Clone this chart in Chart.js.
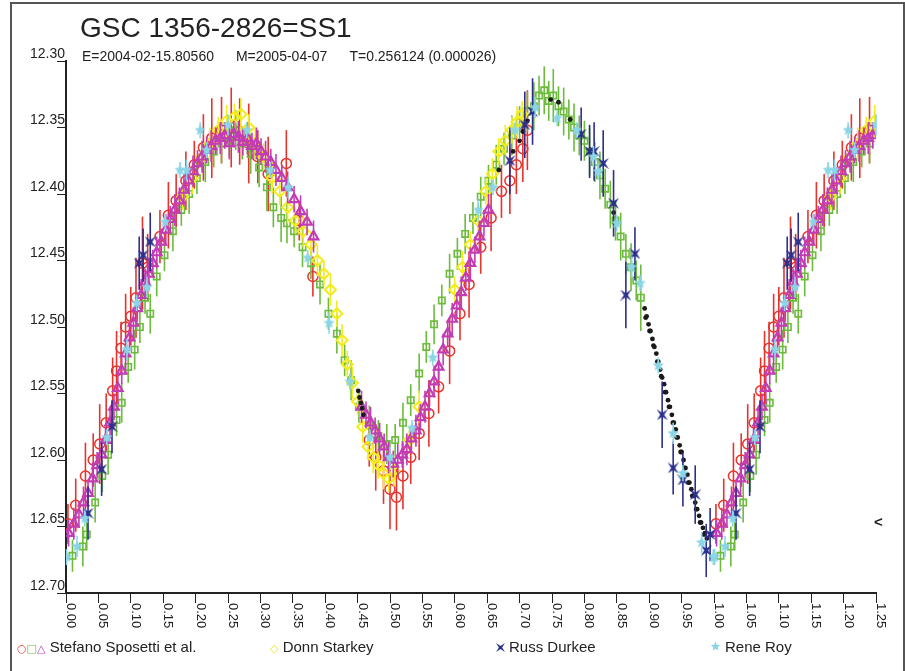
<!DOCTYPE html>
<html>
<head>
<meta charset="utf-8">
<title>GSC 1356-2826=SS1</title>
<script src="https://cdn.jsdelivr.net/npm/chart.js@4.4.1/dist/chart.umd.min.js"></script>
<style>
    body { margin: 0; background: #fff; }
    #wrap { position: relative; width: 905px; height: 671px; overflow: hidden; background: #fff; font-family: "Liberation Sans", Arial, sans-serif; color: #222; }
    #chart { position: absolute; left: 0; top: 0; }
    .frame { position: absolute; left: 10px; top: 2px; width: 891px; height: 700px; border: 2px solid #555; border-bottom: none; }
    .title { position: absolute; left: 80px; top: 14px; font-size: 28px; line-height: 28px; white-space: nowrap; }
    .subtitle { position: absolute; left: 82px; top: 49px; font-size: 14px; line-height: 14px; white-space: nowrap; }
    .subtitle span { margin-right: 22px; }
    .legend { position: absolute; top: 639px; font-size: 15px; line-height: 16px; white-space: nowrap; }
    .legend .mk { font-family: "DejaVu Sans", sans-serif; font-size: 11px; }
    .legend canvas { vertical-align: 0px; margin-right: 4px; }
    .mark { position: absolute; left: 874px; top: 513px; font-size: 15px; font-weight: bold; }
</style>
</head>
<body>
<div id="wrap">
    <canvas id="chart" width="905" height="671"></canvas>
    <div class="frame"></div>
    <div class="title">GSC 1356-2826=SS1</div>
    <div class="subtitle"><span>E=2004-02-15.80560</span><span>M=2005-04-07</span>T=0.256124 (0.000026)</div>
    <div class="legend" style="left:17px"><span class="mk" style="color:#e8322c">○</span><span class="mk" style="color:#6cbb3c">□</span><span class="mk" style="color:#c23cb4">△</span> Stefano Sposetti et al.</div>
    <div class="legend" style="left:270px"><span class="mk" style="color:#ece61a">◇</span> Donn Starkey</div>
    <div class="legend" style="left:496px"><canvas id="lgNavy" width="9" height="9"></canvas>Russ Durkee</div>
    <div class="legend" style="left:710px"><canvas id="lgCyan" width="11" height="11"></canvas>Rene Roy</div>
    <div class="mark">&lt;</div>
</div>

<script>
// phase, magnitude and error per observer
var redPhase = [0.003, 0.015, 0.030, 0.042, 0.052, 0.062, 0.072, 0.078, 0.085, 0.092, 0.100, 0.108, 0.118, 0.126, 0.145, 0.158, 0.170, 0.185, 0.198, 0.212, 0.225, 0.240, 0.255, 0.268, 0.282, 0.296, 0.312, 0.340, 0.360, 0.381, 0.468, 0.478, 0.490, 0.500, 0.510, 0.520, 0.532, 0.545, 0.560, 0.575, 0.592, 0.608, 0.622, 0.640, 0.656, 0.672, 0.685, 0.695, 0.705, 0.712];
var redMag = [12.648, 12.634, 12.612, 12.600, 12.588, 12.572, 12.548, 12.533, 12.516, 12.500, 12.492, 12.478, 12.452, 12.455, 12.432, 12.416, 12.405, 12.390, 12.378, 12.365, 12.358, 12.352, 12.350, 12.353, 12.362, 12.372, 12.385, 12.377, 12.420, 12.462, 12.585, 12.598, 12.608, 12.622, 12.628, 12.612, 12.598, 12.580, 12.565, 12.545, 12.518, 12.490, 12.468, 12.440, 12.418, 12.398, 12.390, 12.378, 12.366, 12.352];
var redErr = [0.015, 0.020, 0.025, 0.020, 0.030, 0.022, 0.025, 0.030, 0.020, 0.025, 0.022, 0.030, 0.035, 0.025, 0.020, 0.025, 0.020, 0.022, 0.018, 0.025, 0.030, 0.025, 0.030, 0.025, 0.030, 0.020, 0.028, 0.025, 0.015, 0.015, 0.020, 0.025, 0.025, 0.030, 0.025, 0.025, 0.020, 0.020, 0.025, 0.020, 0.025, 0.020, 0.025, 0.020, 0.025, 0.020, 0.025, 0.022, 0.025, 0.030];

var greenPhase = [0.010, 0.026, 0.032, 0.045, 0.056, 0.065, 0.078, 0.086, 0.096, 0.106, 0.114, 0.122, 0.130, 0.140, 0.152, 0.165, 0.178, 0.190, 0.202, 0.215, 0.228, 0.240, 0.252, 0.262, 0.272, 0.285, 0.298, 0.310, 0.320, 0.332, 0.341, 0.352, 0.365, 0.378, 0.392, 0.405, 0.418, 0.430, 0.440, 0.452, 0.468, 0.482, 0.495, 0.508, 0.520, 0.532, 0.545, 0.556, 0.568, 0.580, 0.592, 0.604, 0.616, 0.628, 0.640, 0.652, 0.664, 0.676, 0.688, 0.700, 0.712, 0.722, 0.730, 0.738, 0.745, 0.752, 0.760, 0.768, 0.776, 0.784, 0.792, 0.800, 0.808, 0.816, 0.824, 0.832, 0.840, 0.848, 0.856, 0.864, 0.872, 0.880, 0.887];
var greenMag = [12.672, 12.665, 12.656, 12.632, 12.612, 12.596, 12.570, 12.557, 12.530, 12.517, 12.500, 12.478, 12.490, 12.462, 12.446, 12.428, 12.412, 12.400, 12.388, 12.376, 12.368, 12.362, 12.360, 12.352, 12.362, 12.370, 12.380, 12.395, 12.410, 12.418, 12.422, 12.428, 12.440, 12.452, 12.468, 12.490, 12.505, 12.525, 12.540, 12.560, 12.574, 12.582, 12.588, 12.585, 12.572, 12.555, 12.535, 12.515, 12.498, 12.480, 12.460, 12.445, 12.430, 12.418, 12.402, 12.390, 12.378, 12.366, 12.356, 12.346, 12.338, 12.334, 12.326, 12.322, 12.330, 12.326, 12.334, 12.338, 12.344, 12.350, 12.356, 12.360, 12.368, 12.376, 12.386, 12.396, 12.408, 12.420, 12.432, 12.445, 12.455, 12.465, 12.478];
var greenErr = [0.012, 0.015, 0.012, 0.015, 0.012, 0.015, 0.012, 0.015, 0.012, 0.015, 0.012, 0.012, 0.015, 0.015, 0.012, 0.015, 0.012, 0.015, 0.012, 0.015, 0.012, 0.015, 0.012, 0.015, 0.012, 0.015, 0.015, 0.018, 0.015, 0.018, 0.015, 0.012, 0.015, 0.012, 0.015, 0.012, 0.015, 0.012, 0.015, 0.012, 0.015, 0.012, 0.015, 0.012, 0.015, 0.012, 0.015, 0.012, 0.015, 0.012, 0.015, 0.012, 0.015, 0.012, 0.015, 0.012, 0.015, 0.012, 0.015, 0.012, 0.015, 0.018, 0.015, 0.018, 0.015, 0.020, 0.015, 0.018, 0.015, 0.018, 0.015, 0.015, 0.018, 0.015, 0.018, 0.015, 0.018, 0.015, 0.018, 0.015, 0.018, 0.015, 0.025];

var magentaPhase = [0.004, 0.012, 0.020, 0.027, 0.034, 0.041, 0.048, 0.055, 0.061, 0.068, 0.074, 0.080, 0.086, 0.092, 0.098, 0.104, 0.110, 0.116, 0.122, 0.128, 0.134, 0.140, 0.147, 0.154, 0.161, 0.168, 0.175, 0.182, 0.189, 0.196, 0.203, 0.210, 0.217, 0.224, 0.231, 0.238, 0.245, 0.252, 0.259, 0.266, 0.273, 0.280, 0.287, 0.294, 0.301, 0.308, 0.316, 0.324, 0.333, 0.342, 0.352, 0.362, 0.372, 0.382, 0.456, 0.463, 0.470, 0.477, 0.484, 0.491, 0.498, 0.505, 0.512, 0.519, 0.526, 0.533, 0.540, 0.547, 0.554, 0.561, 0.568, 0.575, 0.582, 0.589, 0.596, 0.603, 0.610, 0.617, 0.624, 0.631, 0.638, 0.645, 0.652];
var magentaMag = [12.655, 12.648, 12.641, 12.632, 12.625, 12.614, 12.604, 12.596, 12.585, 12.572, 12.560, 12.546, 12.533, 12.520, 12.508, 12.497, 12.486, 12.476, 12.466, 12.460, 12.452, 12.444, 12.436, 12.427, 12.419, 12.412, 12.405, 12.397, 12.390, 12.383, 12.377, 12.372, 12.367, 12.364, 12.360, 12.358, 12.356, 12.362, 12.355, 12.357, 12.361, 12.358, 12.364, 12.362, 12.368, 12.372, 12.376, 12.382, 12.388, 12.395, 12.404, 12.413, 12.421, 12.432, 12.560, 12.566, 12.572, 12.578, 12.584, 12.590, 12.598, 12.603, 12.600, 12.596, 12.592, 12.584, 12.578, 12.568, 12.560, 12.550, 12.541, 12.530, 12.517, 12.505, 12.494, 12.484, 12.474, 12.463, 12.452, 12.442, 12.432, 12.422, 12.412];
var magentaErr = [0.010, 0.012, 0.010, 0.012, 0.010, 0.012, 0.010, 0.012, 0.010, 0.012, 0.010, 0.012, 0.010, 0.012, 0.010, 0.012, 0.010, 0.012, 0.010, 0.012, 0.010, 0.012, 0.010, 0.012, 0.010, 0.012, 0.010, 0.012, 0.010, 0.012, 0.010, 0.012, 0.010, 0.012, 0.010, 0.012, 0.010, 0.012, 0.010, 0.012, 0.010, 0.012, 0.010, 0.012, 0.010, 0.012, 0.010, 0.012, 0.010, 0.012, 0.010, 0.012, 0.010, 0.012, 0.012, 0.010, 0.012, 0.010, 0.012, 0.010, 0.012, 0.010, 0.012, 0.010, 0.012, 0.010, 0.012, 0.010, 0.012, 0.010, 0.012, 0.010, 0.012, 0.010, 0.012, 0.010, 0.012, 0.010, 0.012, 0.010, 0.012, 0.010, 0.012];

var yellowPhase = [0.180, 0.195, 0.210, 0.222, 0.235, 0.248, 0.260, 0.270, 0.282, 0.292, 0.305, 0.318, 0.330, 0.342, 0.354, 0.366, 0.378, 0.388, 0.398, 0.408, 0.418, 0.426, 0.434, 0.442, 0.450, 0.458, 0.466, 0.474, 0.482, 0.490, 0.498, 0.506, 0.530, 0.545, 0.600, 0.612, 0.624, 0.636, 0.648, 0.658, 0.668, 0.678, 0.688, 0.696, 0.704];
var yellowMag = [12.402, 12.388, 12.372, 12.362, 12.352, 12.345, 12.342, 12.340, 12.350, 12.362, 12.372, 12.388, 12.398, 12.410, 12.420, 12.428, 12.438, 12.450, 12.460, 12.472, 12.490, 12.510, 12.528, 12.542, 12.556, 12.575, 12.590, 12.598, 12.604, 12.610, 12.614, 12.608, 12.585, 12.560, 12.472, 12.455, 12.438, 12.420, 12.398, 12.385, 12.368, 12.360, 12.352, 12.346, 12.340];
var yellowErr = [0.010, 0.012, 0.010, 0.012, 0.010, 0.012, 0.010, 0.012, 0.010, 0.012, 0.010, 0.012, 0.010, 0.012, 0.010, 0.012, 0.010, 0.012, 0.010, 0.012, 0.010, 0.012, 0.010, 0.012, 0.010, 0.012, 0.010, 0.012, 0.010, 0.012, 0.010, 0.012, 0.010, 0.012, 0.010, 0.012, 0.010, 0.012, 0.010, 0.012, 0.010, 0.012, 0.010, 0.012, 0.010];

var navyPhase = [0.034, 0.055, 0.071, 0.113, 0.119, 0.130, 0.685, 0.708, 0.720, 0.795, 0.808, 0.815, 0.829, 0.845, 0.864, 0.878, 0.920, 0.937, 0.952, 0.971, 0.988, 0.994];
var navyMag = [12.640, 12.607, 12.575, 12.452, 12.446, 12.436, 12.375, 12.348, 12.338, 12.355, 12.368, 12.368, 12.377, 12.407, 12.476, 12.445, 12.566, 12.606, 12.615, 12.626, 12.668, 12.656];
var navyErr = [0.020, 0.020, 0.020, 0.020, 0.020, 0.022, 0.025, 0.025, 0.025, 0.020, 0.020, 0.022, 0.025, 0.025, 0.025, 0.020, 0.025, 0.020, 0.020, 0.022, 0.020, 0.020];

var cyanPhase = [0.001, 0.017, 0.029, 0.063, 0.094, 0.109, 0.125, 0.153, 0.176, 0.186, 0.207, 0.217, 0.250, 0.279, 0.315, 0.343, 0.373, 0.406, 0.438, 0.469, 0.500, 0.534, 0.566, 0.636, 0.659, 0.693, 0.724, 0.758, 0.788, 0.814, 0.821, 0.850, 0.873, 0.886, 0.914, 0.937, 0.952, 0.981, 0.999];
var cyanMag = [12.673, 12.665, 12.644, 12.583, 12.517, 12.482, 12.470, 12.421, 12.382, 12.382, 12.352, 12.367, 12.348, 12.352, 12.382, 12.395, 12.448, 12.497, 12.541, 12.583, 12.598, 12.576, 12.523, 12.412, 12.395, 12.352, 12.335, 12.343, 12.352, 12.372, 12.383, 12.422, 12.455, 12.467, 12.529, 12.580, 12.610, 12.662, 12.673];
var cyanErr = [0.006, 0.008, 0.006, 0.006, 0.008, 0.006, 0.008, 0.006, 0.006, 0.008, 0.006, 0.006, 0.008, 0.006, 0.006, 0.008, 0.006, 0.008, 0.006, 0.006, 0.008, 0.006, 0.006, 0.008, 0.006, 0.006, 0.008, 0.006, 0.006, 0.008, 0.006, 0.006, 0.008, 0.006, 0.006, 0.008, 0.006, 0.008, 0.006];

var blackPhase = [0.451, 0.453, 0.455, 0.457, 0.459, 0.668, 0.690, 0.700, 0.705, 0.712, 0.748, 0.760, 0.778, 0.845, 0.893, 0.8945, 0.896, 0.899, 0.9005, 0.902, 0.905, 0.9065, 0.908, 0.911, 0.9125, 0.914, 0.917, 0.9185, 0.920, 0.923, 0.9245, 0.926, 0.929, 0.9305, 0.932, 0.935, 0.9365, 0.938, 0.941, 0.9425, 0.944, 0.947, 0.9485, 0.950, 0.953, 0.9545, 0.956, 0.959, 0.9605, 0.962, 0.965, 0.9665, 0.968, 0.971, 0.9725, 0.974, 0.977, 0.9785, 0.980, 0.983, 0.9845, 0.986, 0.989];
var blackMag = [12.548, 12.553, 12.557, 12.561, 12.566, 12.382, 12.368, 12.360, 12.353, 12.345, 12.329, 12.331, 12.344, 12.414, 12.486, 12.493, 12.492, 12.498, 12.503, 12.503, 12.509, 12.514, 12.515, 12.520, 12.526, 12.526, 12.532, 12.537, 12.538, 12.543, 12.549, 12.549, 12.555, 12.560, 12.560, 12.566, 12.572, 12.572, 12.577, 12.583, 12.583, 12.589, 12.594, 12.594, 12.600, 12.606, 12.606, 12.611, 12.617, 12.617, 12.622, 12.627, 12.627, 12.632, 12.637, 12.637, 12.642, 12.647, 12.647, 12.651, 12.656, 12.655, 12.659];

var xTickLabels = ['0.00', '0.05', '0.10', '0.15', '0.20', '0.25', '0.30', '0.35', '0.40', '0.45', '0.50', '0.55', '0.60', '0.65', '0.70', '0.75', '0.80', '0.85', '0.90', '0.95', '1.00', '1.05', '1.10', '1.15', '1.20', '1.25'];
var yTickLabels = ['12.30', '12.35', '12.40', '12.45', '12.50', '12.55', '12.60', '12.65', '12.70'];

// the plot shows 1.25 cycles: phases up to 0.25 are plotted again one cycle later
function foldedPoints(phase, mag, err) {
    var pts = [], errs = [];
    for (var i = 0; i < phase.length; i++) {
        pts.push({ x: phase[i], y: mag[i] });
        errs.push(err ? err[i] : 0);
        if (phase[i] <= 0.25) {
            pts.push({ x: phase[i] + 1, y: mag[i] });
            errs.push(err ? err[i] : 0);
        }
    }
    return { pts: pts, errs: errs };
}

function drawStar(c, color) {
    var g = c.getContext('2d');
    var cx = c.width / 2, cy = c.height / 2, ro = c.width / 2 - 0.5, ri = ro * 0.45;
    g.beginPath();
    for (var i = 0; i < 10; i++) {
        var r = i % 2 ? ri : ro;
        var a = -Math.PI / 2 + i * Math.PI / 5;
        g.lineTo(cx + r * Math.cos(a), cy + r * Math.sin(a));
    }
    g.closePath();
    g.fillStyle = color;
    g.fill();
    return c;
}

function drawBowtie(c, color) {
    var g = c.getContext('2d');
    var s = c.width;
    g.beginPath();
    g.moveTo(0, 0);
    g.lineTo(s / 2, s * 0.32);
    g.lineTo(s, 0);
    g.lineTo(s * 0.68, s / 2);
    g.lineTo(s, s);
    g.lineTo(s / 2, s * 0.68);
    g.lineTo(0, s);
    g.lineTo(s * 0.32, s / 2);
    g.closePath();
    g.fillStyle = color;
    g.fill();
    return c;
}

function newCanvas(size) {
    var c = document.createElement('canvas');
    c.width = size;
    c.height = size;
    return c;
}

var navyColor = '#2a2e8c';
var cyanColor = '#8ad6e6';
var starImg = drawStar(newCanvas(13), cyanColor);
var bowtieImg = drawBowtie(newCanvas(11), navyColor);
drawBowtie(document.getElementById('lgNavy'), navyColor);
drawStar(document.getElementById('lgCyan'), cyanColor);

var red = foldedPoints(redPhase, redMag, redErr);
var green = foldedPoints(greenPhase, greenMag, greenErr);
var magenta = foldedPoints(magentaPhase, magentaMag, magentaErr);
var yellow = foldedPoints(yellowPhase, yellowMag, yellowErr);
var navy = foldedPoints(navyPhase, navyMag, navyErr);
var cyan = foldedPoints(cyanPhase, cyanMag, cyanErr);
var black = foldedPoints(blackPhase, blackMag, null);

// vertical error bars, drawn just before each dataset's markers
var errorBars = {
    id: 'errorBars',
    beforeDatasetDraw: function (chart, args) {
        var ds = chart.data.datasets[args.index];
        if (!ds.errors) {
            return;
        }
        var ctx = chart.ctx;
        var yScale = chart.scales.y;
        ctx.save();
        ctx.strokeStyle = ds.barColor;
        ctx.lineWidth = 1.6;
        args.meta.data.forEach(function (pt, i) {
            var e = ds.errors[i];
            if (!e) {
                return;
            }
            var v = ds.data[i].y;
            ctx.beginPath();
            ctx.moveTo(pt.x, yScale.getPixelForValue(v - e));
            ctx.lineTo(pt.x, yScale.getPixelForValue(v + e));
            ctx.stroke();
        });
        ctx.restore();
    }
};

// x tick labels read top to bottom, to the right of each tick
var xLabels = {
    id: 'xLabels',
    afterDraw: function (chart) {
        var ctx = chart.ctx;
        var xScale = chart.scales.x;
        var top = chart.chartArea.bottom + 10;
        ctx.save();
        ctx.fillStyle = '#222';
        ctx.font = '13px "Liberation Sans", Arial, sans-serif';
        ctx.textAlign = 'left';
        ctx.textBaseline = 'alphabetic';
        xTickLabels.forEach(function (label) {
            var px = xScale.getPixelForValue(parseFloat(label));
            ctx.save();
            ctx.translate(px + 1, top);
            ctx.rotate(Math.PI / 2);
            ctx.fillText(label, 0, 0);
            ctx.restore();
        });
        ctx.restore();
    }
};

function series(label, data, errs, color, extra) {
    var ds = {
        label: label,
        data: data,
        errors: errs,
        barColor: color,
        borderColor: color,
        backgroundColor: 'rgba(0,0,0,0)',
        showLine: false
    };
    for (var k in extra) {
        ds[k] = extra[k];
    }
    return ds;
}

var ctx = document.getElementById('chart');

var config = {
    type: 'scatter',
    data: {
        datasets: [
            series('Rene Roy', cyan.pts, cyan.errs, cyanColor, { pointStyle: starImg, order: 1 }),
            series('Russ Durkee', navy.pts, navy.errs, navyColor, { pointStyle: bowtieImg, order: 2 }),
            series('other', black.pts, null, '#1a1a1a', { pointStyle: 'circle', pointRadius: 2.4, borderWidth: 0, backgroundColor: '#1a1a1a', order: 3 }),
            series('Stefano Sposetti et al. (triangles)', magenta.pts, magenta.errs, '#c23cb4', { pointStyle: 'triangle', pointRadius: 5.5, borderWidth: 2.2, order: 4 }),
            series('Donn Starkey', yellow.pts, yellow.errs, '#f2ec1c', { pointStyle: 'rectRot', pointRadius: 5.5, borderWidth: 2, order: 5 }),
            series('Stefano Sposetti et al. (squares)', green.pts, green.errs, '#6cbb3c', { pointStyle: 'rect', pointRadius: 4.5, borderWidth: 1.6, order: 6 }),
            series('Stefano Sposetti et al. (circles)', red.pts, red.errs, '#e8322c', { pointStyle: 'circle', pointRadius: 5, borderWidth: 1.5, order: 7 })
        ]
    },
    options: {
        responsive: false,
        animation: false,
        events: [],
        layout: {
            padding: { left: 0, right: 29, top: 61, bottom: 0 }
        },
        plugins: {
            legend: { display: false },
            tooltip: { enabled: false }
        },
        scales: {
            x: {
                type: 'linear',
                min: 0,
                max: 1.25,
                ticks: {
                    display: false,
                    stepSize: 0.05
                },
                grid: {
                    drawOnChartArea: false,
                    drawTicks: true,
                    tickLength: 10,
                    color: '#222',
                    lineWidth: 1
                },
                border: { display: true, color: '#222', width: 2 },
                afterFit: function (scale) {
                    scale.height = 78;
                }
            },
            y: {
                type: 'linear',
                reverse: true,
                min: 12.30,
                max: 12.70,
                ticks: {
                    stepSize: 0.05,
                    padding: -8,
                    labelOffset: -7,
                    color: '#222',
                    font: { family: '"Liberation Sans", Arial, sans-serif', size: 14 },
                    callback: function (v) {
                        return yTickLabels.find(function (l) {
                            return Math.abs(parseFloat(l) - v) < 1e-6;
                        });
                    }
                },
                grid: {
                    drawOnChartArea: false,
                    drawTicks: true,
                    tickLength: 9,
                    color: '#222',
                    lineWidth: 1
                },
                border: { display: true, color: '#222', width: 2 },
                afterFit: function (scale) {
                    scale.width = 66;
                }
            }
        }
    },
    plugins: [errorBars, xLabels]
};

new Chart(ctx, config);
</script>
</body>
</html>
